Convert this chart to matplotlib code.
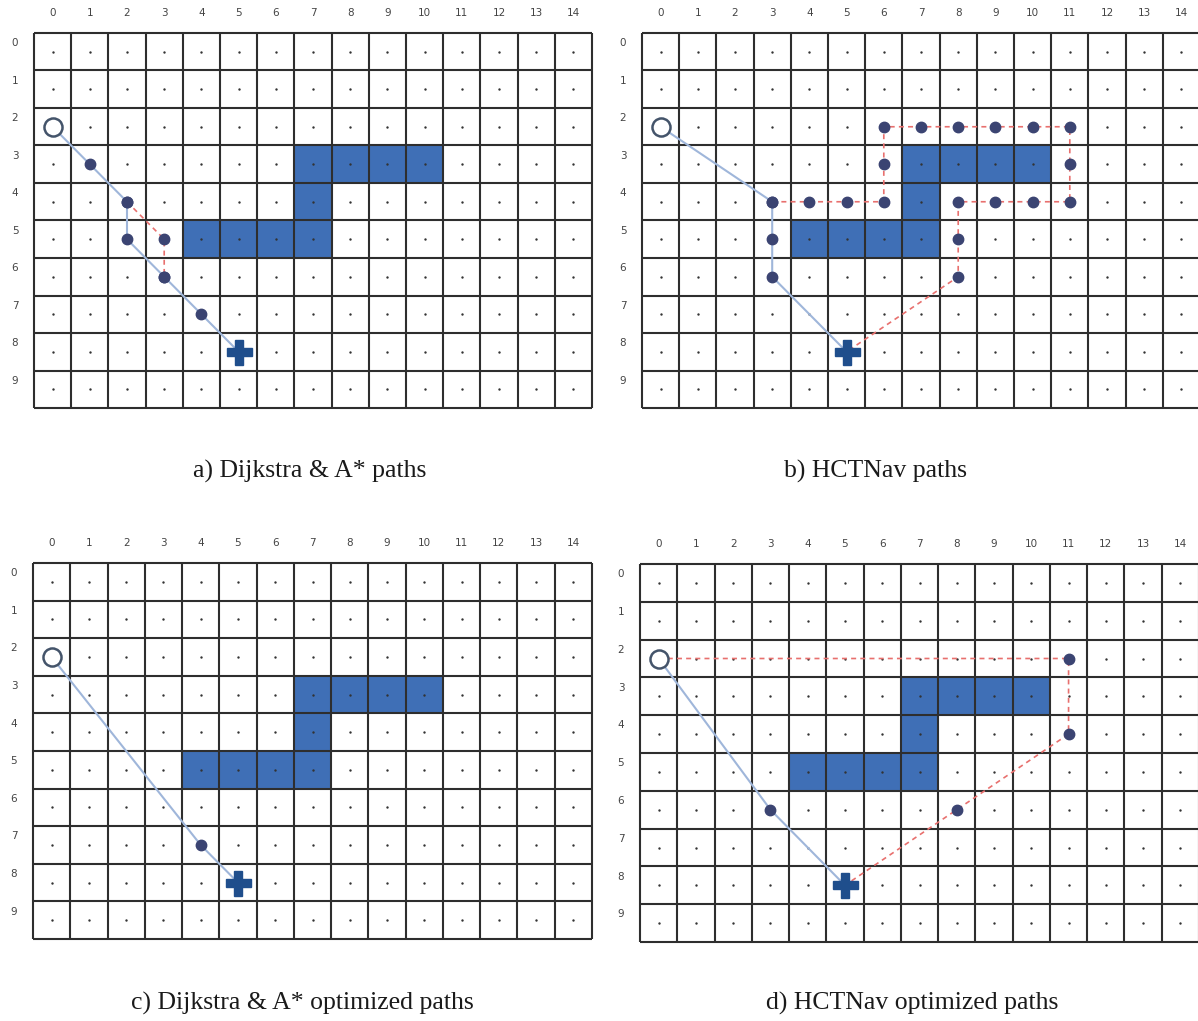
import matplotlib.pyplot as plt
from matplotlib.patches import Rectangle

W, H = 1198, 1021

# grid
n_cols, n_rows = 15, 10
col_labels = [str(i) for i in range(n_cols)]
row_labels = [str(i) for i in range(n_rows)]

# obstacle cells (col, row)
obstacles = [(7, 3), (8, 3), (9, 3), (10, 3), (7, 4), (4, 5), (5, 5), (6, 5), (7, 5)]
start = (0, 2)
goal = (5, 8)

# a) Dijkstra & A*
a_blue = [(0, 2), (1, 3), (2, 4), (2, 5), (3, 6), (4, 7), (5, 8)]
a_red = [(2, 4), (3, 5), (3, 6)]
# b) HCTNav
b_blue = [(0, 2), (3, 4), (3, 5), (3, 6), (5, 8)]
b_red = [(3, 4), (4, 4), (5, 4), (6, 4), (6, 3), (6, 2), (7, 2), (8, 2), (9, 2),
         (10, 2), (11, 2), (11, 3), (11, 4), (10, 4), (9, 4), (8, 4), (8, 5),
         (8, 6), (5, 8)]
# c) Dijkstra & A* optimized
c_blue = [(0, 2), (4, 7), (5, 8)]
c_red = []
# d) HCTNav optimized
d_blue = [(0, 2), (3, 6), (5, 8)]
d_red = [(0, 2), (11, 2), (11, 4), (8, 6), (5, 8)]

captions = ["a) Dijkstra & A* paths", "b) HCTNav paths",
            "c) Dijkstra & A* optimized paths", "d) HCTNav optimized paths"]

# pixel boxes: left, top, width, height
boxes = [(34, 33, 558, 375), (642, 33, 558, 375),
         (33, 563, 559, 376), (640, 564, 559, 378)]
caption_pos = [(310, 471), (876, 471), (302, 1003), (912, 1003)]

OBST = "#3f6fb6"
NODE = "#3b4472"
BLUE = "#9fb6da"
RED = "#e8706e"
GRID = "#2e2e2e"

fig = plt.figure(figsize=(W / 100, H / 100), dpi=100)


def cx(p):
    return p[0] + 0.5


def cy(p):
    return p[1] + 0.5


def draw_panel(box, blue, red):
    l, t, w, h = box
    ax = fig.add_axes([l / W, 1 - (t + h) / H, w / W, h / H])
    ax.set_xlim(0, n_cols)
    ax.set_ylim(n_rows, 0)
    ax.axis("off")
    for c, r in obstacles:
        ax.add_patch(Rectangle((c, r), 1, 1, facecolor=OBST, edgecolor="none", zorder=1))
    ax.vlines(range(n_cols + 1), 0, n_rows, colors=GRID, lw=1.5, zorder=2, clip_on=False)
    ax.hlines(range(n_rows + 1), 0, n_cols, colors=GRID, lw=1.5, zorder=2, clip_on=False)
    xs = [c + 0.5 for c in range(n_cols) for r in range(n_rows)]
    ys = [r + 0.5 for c in range(n_cols) for r in range(n_rows)]
    ax.scatter(xs, ys, s=3, color="#333333", zorder=3, linewidths=0)
    for i, lab in enumerate(col_labels):
        ax.text(i + 0.5, -0.53, lab, ha="center", va="center", fontsize=7.5,
                color="#444444", clip_on=False)
    for j, lab in enumerate(row_labels):
        ax.text(-0.51, j + 0.27, lab, ha="center", va="center", fontsize=7.5,
                color="#444444", clip_on=False)
    if blue:
        ax.plot([cx(p) for p in blue], [cy(p) for p in blue], color=BLUE, lw=1.5, zorder=4)
    if red:
        ax.plot([cx(p) for p in red], [cy(p) for p in red], color=RED, lw=1.2,
                ls=(0, (3, 2.5)), zorder=4)
    nodes = [p for p in blue + red if p != start and p != goal]
    ax.plot([cx(p) for p in nodes], [cy(p) for p in nodes], "o", ms=7.5,
            color=NODE, mec=NODE, zorder=5)
    ax.plot(cx(start), cy(start), "o", ms=13, mfc="white", mec="#44546a", mew=1.8, zorder=6)
    ax.plot(cx(goal), cy(goal), "P", ms=18, color="#1f4e8c", mec="#1f4e8c", zorder=6)
    return ax


panels = [(a_blue, a_red), (b_blue, b_red), (c_blue, c_red), (d_blue, d_red)]
for box, (blue, red), cap, (px, py) in zip(boxes, panels, captions, caption_pos):
    draw_panel(box, blue, red)
    fig.text(px / W, 1 - py / H, cap, ha="center", va="center", fontsize=18.5,
             family="Liberation Serif", color="#1a1a1a")

fig.savefig("out.png", dpi=100)
